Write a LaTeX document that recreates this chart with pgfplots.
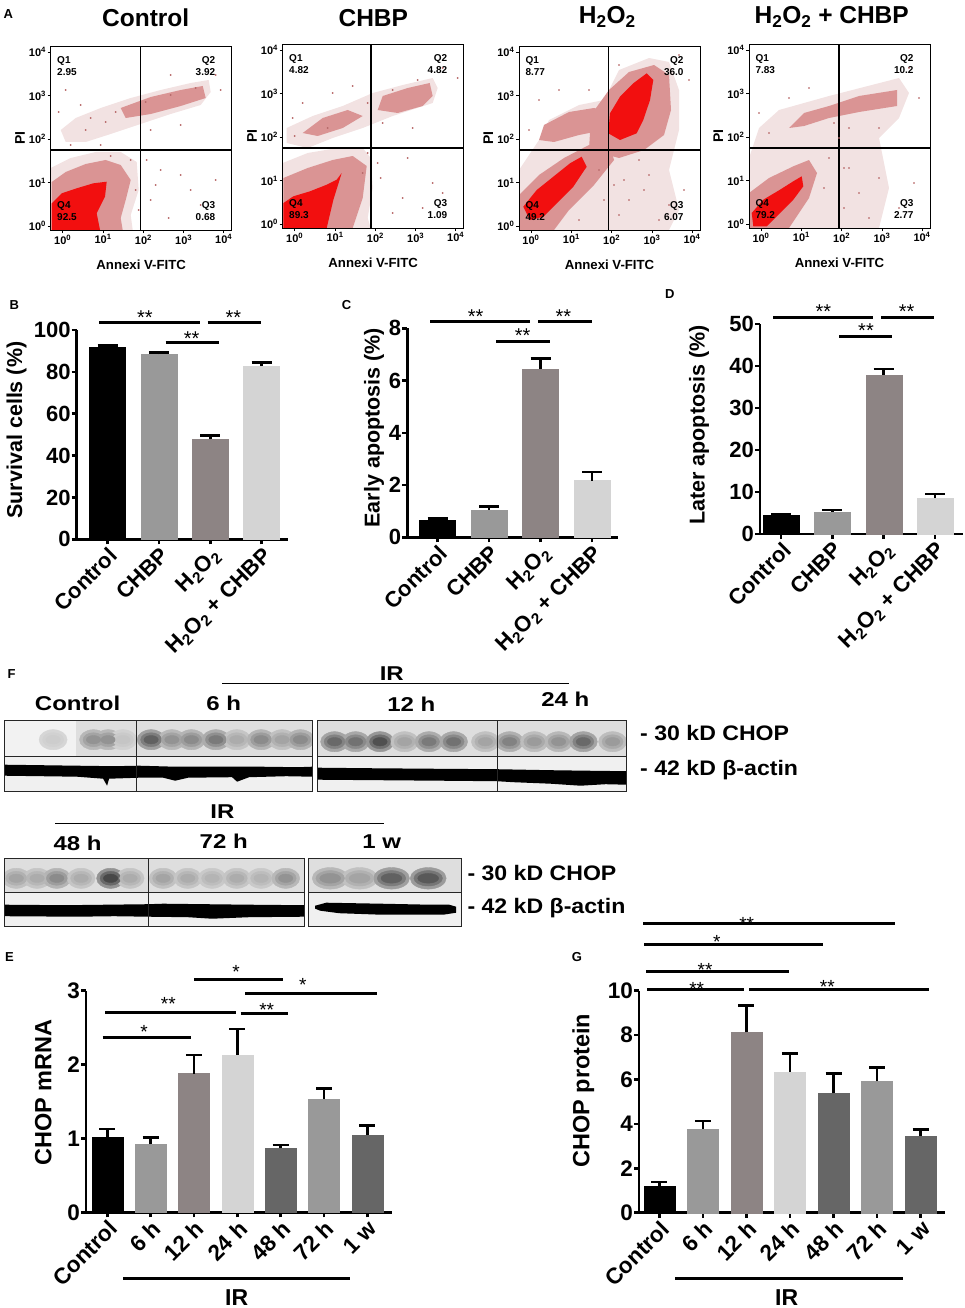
\documentclass[border=0pt]{standalone}
\usepackage{fontspec}
\setmainfont{Liberation Sans}
\usepackage{pgfplots}
\pgfplotsset{compat=1.18}
\usepackage{pgfplotstable}
\newcommand\fsz[1]{\fontsize{#1}{#1}\selectfont\bfseries}
\newcommand\fszn[1]{\fontsize{#1}{#1}\selectfont}
\newcommand\HO{H\textsubscript{2}O\textsubscript{2}}
\definecolor{cgA}{HTML}{999999}
\definecolor{cgB}{HTML}{8D8484}
\definecolor{cgC}{HTML}{D4D4D4}
\definecolor{cgD}{HTML}{666666}
\definecolor{flL}{HTML}{F2E2E2}
\definecolor{flM}{HTML}{DA9494}
\definecolor{flR}{HTML}{F20F0F}
\definecolor{flD}{HTML}{B86A6A}
\tikzset{qd/.style={font=\fsz{10}}}

\pgfplotstableread{
x y c
49 17 0.1
89.4 17 0.45
104 17 0.45
118.8 17 0.15
147 17 0.75
167.8 17 0.45
187.3 17 0.5
211.8 17 0.6
232.7 17 0.3
257 17 0.5
278 17 0.35
296.3 17 0.5
}\bandA
\pgfplotstableread{
x y c
17 15 0.7
38 15 0.65
62.4 15 0.85
87 15 0.35
111.4 15 0.6
136 15 0.65
167.8 15 0.35
192 15 0.55
216.7 15 0.4
241 15 0.45
265.7 15 0.7
295 15 0.4
}\bandB
\pgfplotstableread{
x y c
12.2 14 0.35
33 14 0.3
52.7 14 0.5
77 14 0.3
106.5 14 0.9
126 14 0.3
159 14 0.35
183.7 14 0.3
208 14 0.25
232.7 14 0.3
257 14 0.25
281.6 14 0.45
}\bandC
\pgfplotstableread{
x y c
22 14 0.45
51.4 14 0.35
83.3 14 0.75
120 14 0.8
}\bandD

\pgfplotsset{
 flow/.style={scale only axis, anchor=south west, width=181pt, height=184pt,
  xmin=0, xmax=181, ymin=0, ymax=184, axis on top,
  xtick={12,52.4,92.7,133,173},
  xticklabels={10\textsuperscript{0},10\textsuperscript{1},10\textsuperscript{2},10\textsuperscript{3},10\textsuperscript{4}},
  ytick={4,47.5,91,134.5,178},
  yticklabels={10\textsuperscript{0},10\textsuperscript{1},10\textsuperscript{2},10\textsuperscript{3},10\textsuperscript{4}},
  tick align=outside, major tick length=3pt, xtick pos=left, ytick pos=left,
  axis line style={line width=0.9pt}, tick style={line width=0.8pt,black},
  ticklabel style={font=\fsz{11}, inner sep=1.5pt},
  xlabel={Annexi V-FITC}, ylabel={PI},
  xlabel style={font=\fsz{13.2}, at={(axis description cs:0.5,-0.19)}, anchor=center},
  ylabel style={font=\fsz{14}, at={(axis description cs:-0.1696,0.5)}, anchor=center}},
 barax/.style={scale only axis, anchor=south west, axis lines=left,
  axis line style={line width=2.6pt,-}, tick style={line width=2.6pt,black},
  major tick length=5pt, tick align=outside, ymin=0, clip=false,
  ticklabel style={font=\fsz{22}},
  xticklabel style={rotate=45, anchor=north east, inner sep=1pt},
  yticklabel style={inner sep=1pt},
  ylabel style={font=\fsz{21.5}, anchor=center}},
 eb/.style={ybar, bar shift=0pt, line width=0.4pt, error bars/.cd, y dir=plus, y explicit,
  error bar style={line width=2.6pt,black}, error mark options={rotate=90, line width=2.6pt,black,mark size=#1}},
 blot/.style={scale only axis, anchor=south west, xmin=0, ymin=0, xtick=\empty, ytick=\empty,
  axis on top, axis line style={line width=0.8pt, black!85}, clip marker paths=true,
  colormap={bw}{gray(0cm)=(0.87); gray(1cm)=(0.15)}, point meta min=0, point meta max=1},
 chop/.style={blot, axis background/.style={fill=black!13}},
 actin/.style={blot, axis background/.style={fill=black!6}},
 band/.style={scatter, only marks, mark=*, scatter/use mapped color={draw=mapped color, fill=mapped color}},
 band3/.style={
  /pgfplots/band, mark size=14pt, mark options={xscale=0.95,yscale=0.72}},
}

\begin{document}
\begin{tikzpicture}
\path[use as bounding box] (0,0) rectangle (965pt,-1308pt);

% ================= Panel A =================
\begin{axis}[flow, at={(50.7pt,-230pt)}]
\addplot[fill=flL, draw=none] coordinates {(0,0) (0,62) (20,72) (45,78) (70,78) (86,68) (88,40) (80,15) (82,0)};
\addplot[fill=flL, draw=none] coordinates {(10,100) (25,112) (50,122) (80,132) (110,140) (140,147) (158,150) (160,138) (150,125) (120,116) (90,106) (60,96) (35,88) (15,88)};
\addplot[fill=flM, draw=none] coordinates {(70,122) (100,133) (130,140) (152,144) (155,132) (130,124) (100,116) (75,112)};
\addplot[fill=flM, draw=none] coordinates {(1,0) (1,48) (15,58) (35,66) (55,70) (70,65) (80,50) (75,30) (70,12) (72,0)};
\addplot[fill=flR, draw=none] coordinates {(1,0) (1,26.7) (11,36.7) (26,41.7) (42.7,46.7) (56,48.3) (54.3,33.3) (46,16.7) (49.3,0)};
\addplot[only marks, mark=*, mark size=0.7pt, flD] coordinates {(100,30) (118,12) (140,40) (110,60) (150,25) (96,70) (130,55) (165,50) (105,45) (15,140) (35,100) (30,125) (55,108) (8,118) (100,100) (130,105) (165,155) (170,140) (120,155) (60,74) (80,70) (85,40) (88,20) (40,112) (65,118) (95,128) (120,135) (145,142) (20,85) (50,85)};
\addplot[black, line width=1.3pt] coordinates {(90,0) (90,184)};
\addplot[black, line width=1.3pt] coordinates {(0,80) (181,80)};
\node[qd, anchor=base west] at (axis cs:3,166) {Q1};
\node[qd, anchor=base west] at (axis cs:3,154) {2.95};
\node[qd, anchor=base east] at (axis cs:168,166) {Q2};
\node[qd, anchor=base east] at (axis cs:168,154) {3.92};
\node[qd, anchor=base east] at (axis cs:168,22) {Q3};
\node[qd, anchor=base east] at (axis cs:168,10) {0.68};
\node[qd, anchor=base west] at (axis cs:3,22) {Q4};
\node[qd, anchor=base west] at (axis cs:3,10) {92.5};
\end{axis}

\begin{axis}[flow, at={(282.7pt,-228pt)}]
\addplot[fill=flL, draw=none] coordinates {(0,0) (0,65) (25,75) (55,80) (80,80) (88,70) (90,40) (85,10) (88,0)};
\addplot[fill=flL, draw=none] coordinates {(4,85) (4,100) (30,112) (60,122) (90,135) (120,143) (150,150) (155,140) (150,125) (110,112) (80,100) (50,90) (25,80)};
\addplot[fill=flM, draw=none] coordinates {(95,118) (100,132) (125,140) (147,145) (150,132) (140,122) (115,115)};
\addplot[fill=flM, draw=none] coordinates {(20,95) (40,110) (65,118) (80,112) (60,100) (35,92)};
\addplot[fill=flM, draw=none] coordinates {(0.7,0) (0.7,50) (25,60) (50,68) (70,72) (84,62) (80,30) (70,0)};
\addplot[fill=flR, draw=none] coordinates {(0.7,0) (0.7,25) (10.7,31.7) (27.3,36.7) (44,43.3) (54,48.3) (59,55) (50.7,28.3) (44,0)};
\addplot[only marks, mark=*, mark size=0.7pt, flD] coordinates {(98,50) (120,30) (140,20) (110,15) (95,65) (150,45) (125,70) (160,35) (10,110) (20,125) (50,135) (70,142) (100,105) (160,160) (175,150) (130,100) (85,75) (80,55) (12,92) (45,100) (85,125) (110,138) (135,148)};
\addplot[black, line width=1.3pt] coordinates {(88.3,0) (88.3,184)};
\addplot[black, line width=1.3pt] coordinates {(0,80) (181,80)};
\node[qd, anchor=base west] at (axis cs:3,166) {Q1};
\node[qd, anchor=base west] at (axis cs:3,154) {4.82};
\node[qd, anchor=base east] at (axis cs:168,166) {Q2};
\node[qd, anchor=base east] at (axis cs:168,154) {4.82};
\node[qd, anchor=base east] at (axis cs:168,22) {Q3};
\node[qd, anchor=base east] at (axis cs:168,10) {1.09};
\node[qd, anchor=base west] at (axis cs:3,22) {Q4};
\node[qd, anchor=base west] at (axis cs:3,10) {89.3};
\end{axis}

\begin{axis}[flow, at={(519pt,-230pt)}]
\addplot[fill=flL, draw=none] coordinates {(0,0) (0,60) (20,90) (30,110) (60,125) (85,130) (100,160) (130,172) (150,168) (160,140) (160,100) (150,60) (160,20) (150,0)};
\addplot[fill=flM, draw=none] coordinates {(0,0) (0,35) (20,55) (45,72) (70,85) (90,88) (95,70) (75,45) (50,20) (35,0)};
\addplot[fill=flM, draw=none] coordinates {(20,90) (25,105) (50,118) (75,122) (90,118) (85,100) (60,95) (35,88)};
\addplot[fill=flM, draw=none] coordinates {(70,80) (72,115) (90,140) (110,158) (135,165) (150,155) (152,120) (145,95) (125,80) (100,72)};
\addplot[fill=flR, draw=none] coordinates {(89.3,96.7) (91,116.7) (101,133.3) (114.3,146.7) (127.7,156.7) (134.3,150) (131,130) (124.3,110) (117.7,96.7) (101,90)};
\addplot[fill=flR, draw=none] coordinates {(11,10) (4.3,23.3) (17.7,40) (34.3,53.3) (51,66.7) (62.7,73.3) (67.7,63.3) (54.3,43.3) (37.7,26.7) (24.3,13.3)};
\addplot[only marks, mark=*, mark size=0.7pt, flD] coordinates {(95,45) (110,30) (130,55) (150,25) (165,40) (140,10) (120,70) (10,100) (20,130) (40,140) (70,140) (160,175) (170,150) (100,165) (80,60) (85,30) (60,10) (105,50) (125,40) (100,15)};
\addplot[black, line width=1.3pt] coordinates {(89.3,0) (89.3,184)};
\addplot[black, line width=1.3pt] coordinates {(0,80) (181,80)};
\node[qd, anchor=base west] at (axis cs:3,166) {Q1};
\node[qd, anchor=base west] at (axis cs:3,154) {8.77};
\node[qd, anchor=base east] at (axis cs:168,166) {Q2};
\node[qd, anchor=base east] at (axis cs:168,154) {36.0};
\node[qd, anchor=base east] at (axis cs:168,22) {Q3};
\node[qd, anchor=base east] at (axis cs:168,10) {6.07};
\node[qd, anchor=base west] at (axis cs:3,22) {Q4};
\node[qd, anchor=base west] at (axis cs:3,10) {49.2};
\end{axis}

\begin{axis}[flow, at={(749pt,-228pt)}]
\addplot[fill=flL, draw=none] coordinates {(0,0) (0,70) (10,100) (30,118) (80,132) (150,150) (160,135) (150,110) (130,90) (140,40) (130,0)};
\addplot[fill=flL, draw=none] coordinates {(28,90) (30,110) (50,118) (80,125) (110,135) (150,143) (153,130) (140,118) (100,110) (70,103) (45,92)};
\addplot[fill=flM, draw=none] coordinates {(40,100) (55,115) (80,122) (110,132) (148,138) (148,122) (110,116) (80,110) (55,102)};
\addplot[fill=flM, draw=none] coordinates {(0,0) (0,35) (20,50) (45,62) (60,68) (68,55) (60,30) (40,0)};
\addplot[fill=flR, draw=none] coordinates {(4.3,1.7) (2.7,15) (14.3,28.3) (31,38.3) (44.3,46.7) (52.7,51.7) (54.3,41.7) (44.3,28.3) (31,15) (17.7,1.7)};
\addplot[only marks, mark=*, mark size=0.7pt, flD] coordinates {(100,60) (110,35) (130,50) (150,20) (165,45) (120,10) (95,20) (10,115) (20,95) (60,140) (40,130) (100,100) (160,160) (170,130) (130,100) (80,70) (75,40) (90,90) (85,105) (95,60)};
\addplot[black, line width=1.3pt] coordinates {(90,0) (90,184)};
\addplot[black, line width=1.3pt] coordinates {(0,80) (181,80)};
\node[qd, anchor=base west] at (axis cs:3,166) {Q1};
\node[qd, anchor=base west] at (axis cs:3,154) {7.83};
\node[qd, anchor=base east] at (axis cs:168,166) {Q2};
\node[qd, anchor=base east] at (axis cs:168,154) {10.2};
\node[qd, anchor=base east] at (axis cs:168,22) {Q3};
\node[qd, anchor=base east] at (axis cs:168,10) {2.77};
\node[qd, anchor=base west] at (axis cs:3,22) {Q4};
\node[qd, anchor=base west] at (axis cs:3,10) {79.2};
\end{axis}

% ================= Panels B, C, D =================
\begin{axis}[barax, at={(76.7pt,-539.3pt)}, width=211.6pt, height=209.3pt,
  xmin=-0.6, xmax=3.52, ymax=100, bar width=36pt,
  xtick={0,1,2,3}, xticklabels={Control,CHBP,\HO,\HO{} + CHBP},
  ytick={0,20,40,60,80,100}, yticklabels={0,20,40,60,80,100},
  ylabel={Survival cells (\%)}, ylabel style={at={(axis description cs:-0.2836,0.522)}}]
\addplot[fill=black, draw=black, eb=10pt] coordinates {(0,92.0) +- (0,0.5)};
\addplot[fill=cgA, draw=cgA, eb=10pt] coordinates {(1,88.5) +- (0,0.7)};
\addplot[fill=cgB, draw=cgB, eb=10pt] coordinates {(2,47.8) +- (0,1.7)};
\addplot[fill=cgC, draw=cgC, eb=10pt] coordinates {(3,82.8) +- (0,1.8)};
\end{axis}

\begin{axis}[barax, at={(407.3pt,-537.3pt)}, width=211pt, height=209pt,
  xmin=-0.59, xmax=3.51, ymax=8, bar width=36pt,
  xtick={0,1,2,3}, xticklabels={Control,CHBP,\HO,\HO{} + CHBP},
  ytick={0,2,4,6,8}, yticklabels={0,2,4,6,8},
  ylabel={Early apoptosis (\%)}, ylabel style={at={(axis description cs:-0.1578,0.525)}}]
\addplot[fill=black, draw=black, eb=10pt] coordinates {(0,0.64) +- (0,0.07)};
\addplot[fill=cgA, draw=cgA, eb=10pt] coordinates {(1,1.05) +- (0,0.12)};
\addplot[fill=cgB, draw=cgB, eb=10pt] coordinates {(2,6.44) +- (0,0.41)};
\addplot[fill=cgC, draw=cgC, eb=10pt] coordinates {(3,2.17) +- (0,0.33)};
\end{axis}

\begin{axis}[barax, at={(760pt,-534pt)}, width=203.3pt, height=210pt,
  xmin=-0.41, xmax=3.55, ymax=50, bar width=36pt,
  xtick={0,1,2,3}, xticklabels={Control,CHBP,\HO,\HO{} + CHBP},
  ytick={0,10,20,30,40,50}, yticklabels={0,10,20,30,40,50},
  ylabel={Later apoptosis (\%)}, ylabel style={at={(axis description cs:-0.300,0.519)}}]
\addplot[fill=black, draw=black, eb=10pt] coordinates {(0,4.37) +- (0,0.33)};
\addplot[fill=cgA, draw=cgA, eb=10pt] coordinates {(1,5.3) +- (0,0.4)};
\addplot[fill=cgB, draw=cgB, eb=10pt] coordinates {(2,37.9) +- (0,1.4)};
\addplot[fill=cgC, draw=cgC, eb=10pt] coordinates {(3,8.5) +- (0,1.0)};
\end{axis}

% ================= Panel F (blots) =================
\begin{axis}[chop, at={(4.1pt,-756.7pt)}, width=308.1pt, height=36.7pt, xmax=308.1, ymax=36.7]
\addplot[fill=black!5, draw=none] coordinates {(0,0) (0,36.7) (72,36.7) (72,0)};
\addplot[band, mark size=14pt, mark options={xscale=1.0,yscale=0.72}, point meta={0.45*\thisrow{c}}] table[x=x,y=y] {\bandA};
\addplot[band, mark size=10pt, mark options={xscale=1.05,yscale=0.7}, point meta={0.7*\thisrow{c}}] table[x=x,y=y] {\bandA};
\addplot[band, mark size=6pt, mark options={xscale=1.2,yscale=0.7}, point meta={0.9*\thisrow{c}}] table[x=x,y=y] {\bandA};
\addplot[black!85, line width=0.7pt] coordinates {(131.8,0) (131.8,36.7)};
\end{axis}
\begin{axis}[actin, at={(4.1pt,-791.7pt)}, width=308.1pt, height=35pt, xmax=308.1, ymax=35]
\addplot[fill=black, draw=none] coordinates {(0,27) (37,26.5) (73,26) (110,25.5) (135,26) (171,25) (220,25) (257,25) (294,24.5) (308.1,25) (308.1,15) (282,15.5) (245,14.5) (233,10) (228,14.5) (184,14) (171,11) (159,14) (135,14) (105,13) (103,6) (99,13) (73,15) (37,15.5) (0,16)};
\addplot[black!85, line width=0.7pt] coordinates {(131.8,0) (131.8,35)};
\end{axis}
\begin{axis}[chop, at={(317.6pt,-756.7pt)}, width=308.9pt, height=36.7pt, xmax=308.9, ymax=36.7]
\addplot[band, mark size=14pt, mark options={xscale=1.0,yscale=0.72}, point meta={0.45*\thisrow{c}}] table[x=x,y=y] {\bandB};
\addplot[band, mark size=10pt, mark options={xscale=1.05,yscale=0.7}, point meta={0.7*\thisrow{c}}] table[x=x,y=y] {\bandB};
\addplot[band, mark size=6pt, mark options={xscale=1.2,yscale=0.7}, point meta={0.9*\thisrow{c}}] table[x=x,y=y] {\bandB};
\addplot[black!85, line width=0.7pt] coordinates {(179.5,0) (179.5,36.7)};
\end{axis}
\begin{axis}[actin, at={(317.6pt,-791.7pt)}, width=308.9pt, height=35pt, xmax=308.9, ymax=35]
\addplot[fill=black, draw=none] coordinates {(0,24) (49,23.5) (110,23) (179,22.5) (233,21.5) (269,21) (308.9,20.5) (308.9,7) (288,7.5) (263,6) (233,8) (196,9.5) (179,10.5) (122,11) (61,11.5) (0,12)};
\addplot[black!85, line width=0.7pt] coordinates {(179.5,0) (179.5,35)};
\end{axis}
\begin{axis}[chop, at={(4.1pt,-892.3pt)}, width=300pt, height=34pt, xmax=300, ymax=34]
\addplot[band, mark size=14pt, mark options={xscale=1.0,yscale=0.72}, point meta={0.45*\thisrow{c}}] table[x=x,y=y] {\bandC};
\addplot[band, mark size=10pt, mark options={xscale=1.05,yscale=0.7}, point meta={0.7*\thisrow{c}}] table[x=x,y=y] {\bandC};
\addplot[band, mark size=6pt, mark options={xscale=1.2,yscale=0.7}, point meta={0.9*\thisrow{c}}] table[x=x,y=y] {\bandC};
\addplot[black!85, line width=0.7pt] coordinates {(144.1,0) (144.1,34)};
\end{axis}
\begin{axis}[actin, at={(4.1pt,-926.7pt)}, width=300pt, height=34.4pt, xmax=300, ymax=34.4]
\addplot[fill=black, draw=none] coordinates {(0,22) (61,21.5) (144,22.5) (159,23) (245,22) (300,21.5) (300,10) (245,9.5) (208,8) (184,9.5) (144,10) (110,10.5) (73,10) (0,10.5)};
\addplot[black!85, line width=0.7pt] coordinates {(144.1,0) (144.1,34.4)};
\end{axis}
\begin{axis}[chop, at={(308.2pt,-892.3pt)}, width=153pt, height=34pt, xmax=153, ymax=34]
\addplot[band, mark size=15pt, mark options={xscale=1.2,yscale=0.72}, point meta={0.45*\thisrow{c}}] table[x=x,y=y] {\bandD};
\addplot[band, mark size=11pt, mark options={xscale=1.3,yscale=0.7}, point meta={0.7*\thisrow{c}}] table[x=x,y=y] {\bandD};
\addplot[band, mark size=7pt, mark options={xscale=1.5,yscale=0.7}, point meta={0.9*\thisrow{c}}] table[x=x,y=y] {\bandD};
\end{axis}
\begin{axis}[actin, at={(308.2pt,-926.7pt)}, width=153pt, height=34.4pt, xmax=153, ymax=34.4]
\addplot[fill=black, draw=none] coordinates {(7,21) (18,24) (73,23) (122,22) (141,22) (148,20) (148,14) (135,12) (73,12) (31,13.5) (12,16) (7,18)};
\end{axis}

% ================= Panel E =================
\begin{axis}[barax, at={(86pt,-1212.3pt)}, width=305.7pt, height=221.6pt,
  xmin=-0.49, xmax=6.56, ymax=3, bar width=31pt,
  ticklabel style={font=\fsz{22.5}},
  xtick={0,...,6}, xticklabels={Control,6 h,12 h,24 h,48 h,72 h,1 w},
  ytick={0,1,2,3}, yticklabels={0,1,2,3},
  ylabel={CHOP mRNA}, ylabel style={font=\fsz{23.5}, at={(axis description cs:-0.1397,0.5415)}}]
\addplot[fill=black, draw=black, eb=8pt] coordinates {(0,1.02) +- (0,0.11)};
\addplot[fill=cgA, draw=cgA, eb=8pt] coordinates {(1,0.92) +- (0,0.095)};
\addplot[fill=cgB, draw=cgB, eb=8pt] coordinates {(2,1.877) +- (0,0.253)};
\addplot[fill=cgC, draw=cgC, eb=8pt] coordinates {(3,2.13) +- (0,0.35)};
\addplot[fill=cgD, draw=cgD, eb=8pt] coordinates {(4,0.866) +- (0,0.045)};
\addplot[fill=cgA, draw=cgA, eb=8pt] coordinates {(5,1.534) +- (0,0.144)};
\addplot[fill=cgD, draw=cgD, eb=8pt] coordinates {(6,1.05) +- (0,0.127)};
\end{axis}

% ================= Panel G =================
\begin{axis}[barax, at={(639pt,-1212.7pt)}, width=306pt, height=222pt,
  xmin=-0.466, xmax=6.56, ymax=10, bar width=31pt,
  ticklabel style={font=\fsz{22.5}},
  xtick={0,...,6}, xticklabels={Control,6 h,12 h,24 h,48 h,72 h,1 w},
  ytick={0,2,4,6,8,10}, yticklabels={0,2,4,6,8,10},
  ylabel={CHOP protein}, ylabel style={font=\fsz{23.5}, at={(axis description cs:-0.182,0.5495)}}]
\addplot[fill=black, draw=black, eb=8pt] coordinates {(0,1.2) +- (0,0.18)};
\addplot[fill=cgA, draw=cgA, eb=8pt] coordinates {(1,3.78) +- (0,0.35)};
\addplot[fill=cgB, draw=cgB, eb=8pt] coordinates {(2,8.12) +- (0,1.22)};
\addplot[fill=cgC, draw=cgC, eb=8pt] coordinates {(3,6.34) +- (0,0.82)};
\addplot[fill=cgD, draw=cgD, eb=8pt] coordinates {(4,5.39) +- (0,0.89)};
\addplot[fill=cgA, draw=cgA, eb=8pt] coordinates {(5,5.92) +- (0,0.61)};
\addplot[fill=cgD, draw=cgD, eb=8pt] coordinates {(6,3.45) +- (0,0.30)};
\end{axis}

% ================= annotations =================
\begin{scope}[x=1pt,y=-1pt]
\node[font=\fsz{13}, anchor=base west, inner sep=0] at (3.3,18.3) {A};
\node[font=\fsz{13}, anchor=base west, inner sep=0] at (9.3,309) {B};
\node[font=\fsz{13}, anchor=base west, inner sep=0] at (341.7,309) {C};
\node[font=\fsz{13}, anchor=base west, inner sep=0] at (665,298.3) {D};
\node[font=\fsz{13}, anchor=base west, inner sep=0] at (5,961.7) {E};
\node[font=\fsz{13}, anchor=base west, inner sep=0] at (7.3,678) {F};
\node[font=\fsz{13}, anchor=base west, inner sep=0] at (571.7,961.7) {G};
\node[font=\fsz{24.5}, anchor=base, inner sep=0] at (145.7,26.5) {Control};
\node[font=\fsz{24.5}, anchor=base, inner sep=0] at (373.3,26.5) {CHBP};
\node[font=\fsz{24.5}, anchor=base, inner sep=0] at (607.3,24) {\HO};
\node[font=\fsz{24.5}, anchor=base, inner sep=0] at (831.7,24) {\HO{} + CHBP};
\draw[line width=3pt] (99.3,322.7) -- (200,322.7);
\draw[line width=3pt] (207.7,322.7) -- (261,322.7);
\draw[line width=3pt] (165.7,342.3) -- (219,342.3);
\node[font=\fszn{20}, anchor=base, inner sep=0] at (145,324.7) {**};
\node[font=\fszn{20}, anchor=base, inner sep=0] at (233.3,324.7) {**};
\node[font=\fszn{20}, anchor=base, inner sep=0] at (191.7,345) {**};
\draw[line width=3pt] (430,321.7) -- (530,321.7);
\draw[line width=3pt] (538.3,321.7) -- (591.7,321.7);
\draw[line width=3pt] (496,341) -- (550,341);
\node[font=\fszn{20}, anchor=base, inner sep=0] at (475.7,323.4) {**};
\node[font=\fszn{20}, anchor=base, inner sep=0] at (563.3,323.4) {**};
\node[font=\fszn{20}, anchor=base, inner sep=0] at (522.7,342.4) {**};
\draw[line width=3pt] (773.3,317.7) -- (873.3,317.7);
\draw[line width=3pt] (881,317.7) -- (934.3,317.7);
\draw[line width=3pt] (839.3,336.7) -- (892.3,336.7);
\node[font=\fszn{20}, anchor=base, inner sep=0] at (823.3,318.4) {**};
\node[font=\fszn{20}, anchor=base, inner sep=0] at (906.7,318.4) {**};
\node[font=\fszn{20}, anchor=base, inner sep=0] at (866,337.7) {**};
\node[font=\fsz{20}, xscale=1.2, anchor=base, inner sep=0] at (391.8,680) {IR};
\draw[line width=1pt] (222.4,683.3) -- (569.4,683.3);
\node[font=\fsz{20}, xscale=1.2, anchor=base, inner sep=0] at (77.6,710) {Control};
\node[font=\fsz{20}, xscale=1.2, anchor=base, inner sep=0] at (223.7,710) {6 h};
\node[font=\fsz{20}, xscale=1.2, anchor=base, inner sep=0] at (411.4,711.7) {12 h};
\node[font=\fsz{20}, xscale=1.2, anchor=base, inner sep=0] at (565.3,706.7) {24 h};
\node[font=\fsz{20}, xscale=1.2, anchor=base, inner sep=0] at (222.4,818.3) {IR};
\draw[line width=1pt] (55.1,823.3) -- (383.7,823.3);
\node[font=\fsz{20}, xscale=1.2, anchor=base, inner sep=0] at (77.6,850) {48 h};
\node[font=\fsz{20}, xscale=1.2, anchor=base, inner sep=0] at (223.7,848.3) {72 h};
\node[font=\fsz{20}, xscale=1.2, anchor=base, inner sep=0] at (381.6,848.3) {1 w};
\node[font=\fsz{21}, xscale=1.1, anchor=base west, inner sep=0] at (640,740) {- 30 kD CHOP};
\node[font=\fsz{21}, xscale=1.1, anchor=base west, inner sep=0] at (640,775) {- 42 kD β-actin};
\node[font=\fsz{21}, xscale=1.1, anchor=base west, inner sep=0] at (467.3,880) {- 30 kD CHOP};
\node[font=\fsz{21}, xscale=1.1, anchor=base west, inner sep=0] at (467.3,913) {- 42 kD β-actin};
\draw[line width=3pt] (102.7,1037.3) -- (190.7,1037.3);
\draw[line width=3pt] (105,1012.7) -- (236,1012.7);
\draw[line width=3pt] (240.7,1013.3) -- (288.3,1013.3);
\draw[line width=3pt] (194.3,979) -- (282.7,979);
\draw[line width=3pt] (245,993) -- (376.7,993);
\node[font=\fszn{19}, anchor=base, inner sep=0] at (144,1038.4) {*};
\node[font=\fszn{19}, anchor=base, inner sep=0] at (168.3,1010.7) {**};
\node[font=\fszn{19}, anchor=base, inner sep=0] at (266.7,1016.7) {**};
\node[font=\fszn{19}, anchor=base, inner sep=0] at (236,978.4) {*};
\node[font=\fszn{19}, anchor=base, inner sep=0] at (302.7,991) {*};
\draw[line width=3pt] (123.3,1278.3) -- (350,1278.3);
\node[font=\fsz{23}, anchor=base, inner sep=0] at (236.7,1305) {IR};
\draw[line width=3pt] (643.3,923.3) -- (895,923.3);
\draw[line width=3pt] (644,944) -- (823.3,944);
\draw[line width=3pt] (646,971) -- (789.3,971);
\draw[line width=3pt] (647.3,989.3) -- (744,989.3);
\draw[line width=3pt] (749.3,989.3) -- (929,989.3);
\node[font=\fszn{19}, anchor=base, inner sep=0] at (746.7,930) {**};
\node[font=\fszn{19}, anchor=base, inner sep=0] at (716.7,948.4) {*};
\node[font=\fszn{19}, anchor=base, inner sep=0] at (705,976) {**};
\node[font=\fszn{19}, anchor=base, inner sep=0] at (696.7,995) {**};
\node[font=\fszn{19}, anchor=base, inner sep=0] at (827.3,993.4) {**};
\draw[line width=3pt] (675,1278.3) -- (903.3,1278.3);
\node[font=\fsz{23}, anchor=base, inner sep=0] at (786.7,1305) {IR};
\end{scope}
\end{tikzpicture}
\end{document}
